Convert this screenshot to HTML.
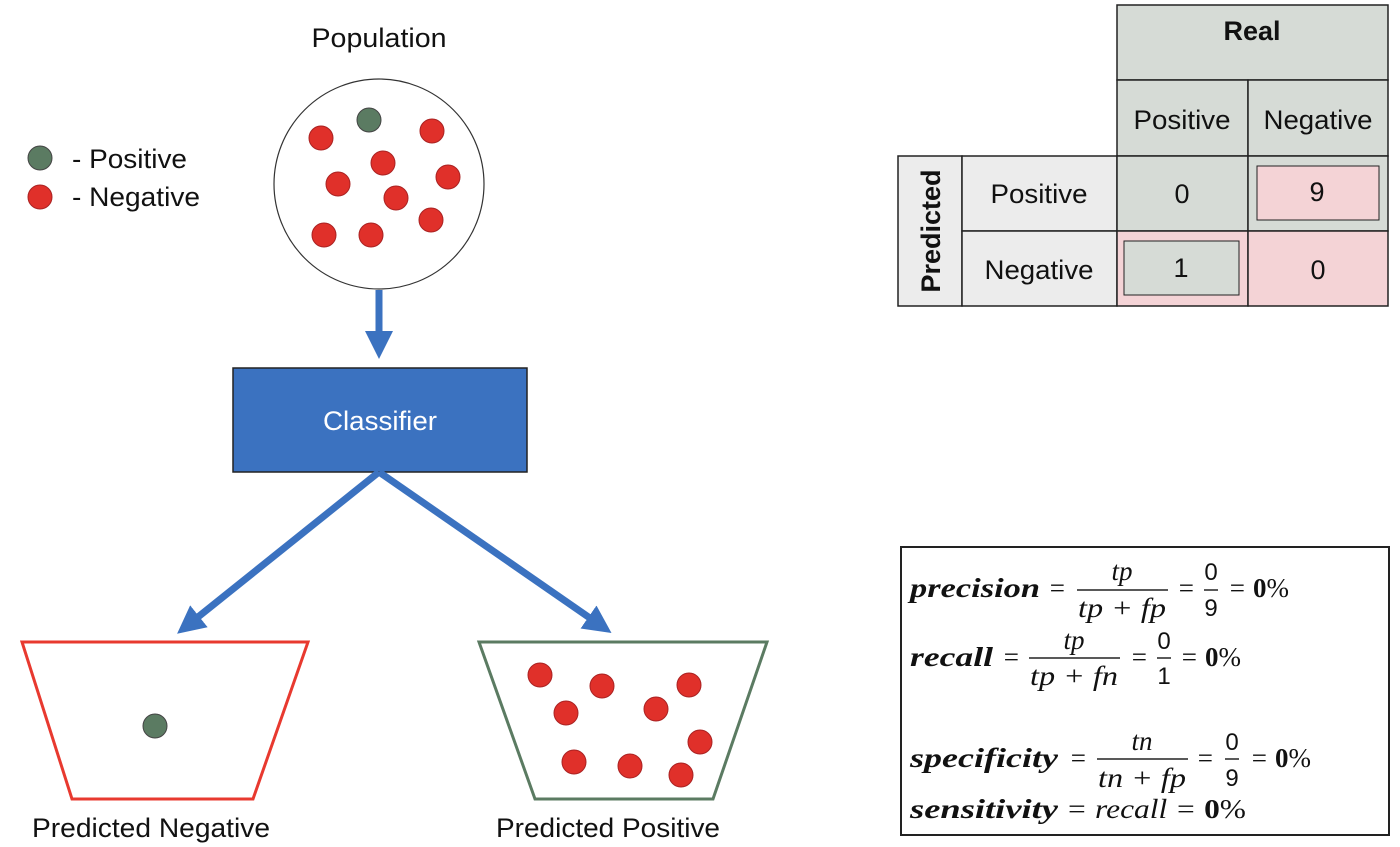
<!DOCTYPE html>
<html><head><meta charset="utf-8"><style>
html,body{margin:0;padding:0;background:#fff;}
svg{display:block;}
.t{font-family:"Liberation Sans",sans-serif;fill:#111;}
.m{font-family:"Liberation Serif",serif;font-style:italic;fill:#111;font-size:27px;}
.mb{font-weight:bold;}
.n{font-family:"Liberation Sans",sans-serif;font-style:normal;font-size:24px;}
</style></head><body>
<svg width="1400" height="847" viewBox="0 0 1400 847" xmlns="http://www.w3.org/2000/svg">
<defs>
<marker id="ah" markerWidth="4" markerHeight="4" refX="2" refY="2" orient="auto" markerUnits="strokeWidth">
<path d="M0,0 L4,2 L0,4 z" fill="#3b72c0"/></marker>
</defs>
<g>
<circle cx="40" cy="158" r="12" fill="#5b7b62" stroke="#444" stroke-width="1"/>
<text class="t" x="72" y="168" font-size="27" textLength="115" lengthAdjust="spacingAndGlyphs">- Positive</text>
<circle cx="40" cy="197" r="12" fill="#e0302a" stroke="#a22" stroke-width="1"/>
<text class="t" x="72" y="206" font-size="27" textLength="128" lengthAdjust="spacingAndGlyphs">- Negative</text>
</g>
<text class="t" x="379" y="47" font-size="27" text-anchor="middle" textLength="135" lengthAdjust="spacingAndGlyphs">Population</text>
<circle cx="379" cy="184" r="105" fill="#fff" stroke="#333" stroke-width="1.2"/>
<g id="popdots"></g>
<line x1="379" y1="290" x2="379" y2="345" stroke="#3b72c0" stroke-width="7" marker-end="url(#ah)"/>
<rect x="233" y="368" width="294" height="104" fill="#3b72c0" stroke="#222" stroke-width="1.5"/>
<text x="380" y="430" font-size="27" fill="#fff" text-anchor="middle" font-family="Liberation Sans,sans-serif" textLength="114" lengthAdjust="spacingAndGlyphs">Classifier</text>
<line x1="379" y1="472" x2="188" y2="625" stroke="#3b72c0" stroke-width="7" marker-end="url(#ah)"/>
<line x1="379" y1="472" x2="600" y2="625" stroke="#3b72c0" stroke-width="7" marker-end="url(#ah)"/>
<polygon points="22,642 308,642 253,799 72,799" fill="#fff" stroke="#e8392f" stroke-width="3"/>
<polygon points="479,642 767,642 713,799 535,799" fill="#fff" stroke="#5b7b62" stroke-width="3"/>
<g id="bindots"></g>
<text class="t" x="151" y="837" font-size="27" text-anchor="middle" textLength="238" lengthAdjust="spacingAndGlyphs">Predicted Negative</text>
<text class="t" x="608" y="837" font-size="27" text-anchor="middle" textLength="224" lengthAdjust="spacingAndGlyphs">Predicted Positive</text>

<g stroke="#222" stroke-width="1.5">
<rect x="1117" y="5" width="271" height="75" fill="#d6dbd6"/>
<rect x="1117" y="80" width="131" height="76" fill="#d6dbd6"/>
<rect x="1248" y="80" width="140" height="76" fill="#d6dbd6"/>
<rect x="898" y="156" width="64" height="150" fill="#ececec"/>
<rect x="962" y="156" width="155" height="75" fill="#ececec"/>
<rect x="962" y="231" width="155" height="75" fill="#ececec"/>
<rect x="1117" y="156" width="131" height="75" fill="#d6dbd6"/>
<rect x="1248" y="156" width="140" height="75" fill="#d6dbd6"/>
<rect x="1117" y="231" width="131" height="75" fill="#f4d3d6"/>
<rect x="1248" y="231" width="140" height="75" fill="#f4d3d6"/>
<rect x="1257" y="166" width="122" height="54" fill="#f4d3d6" stroke-width="1"/>
<rect x="1124" y="241" width="115" height="54" fill="#d6dbd6" stroke-width="1"/>
</g>
<g class="t" font-size="27" text-anchor="middle">
<text x="1252" y="40" font-weight="bold">Real</text>
<text x="1182" y="129" textLength="97" lengthAdjust="spacingAndGlyphs">Positive</text>
<text x="1318" y="129" textLength="109" lengthAdjust="spacingAndGlyphs">Negative</text>
<text x="1039" y="203" textLength="97" lengthAdjust="spacingAndGlyphs">Positive</text>
<text x="1039" y="279" textLength="109" lengthAdjust="spacingAndGlyphs">Negative</text>
<text x="1182" y="203">0</text>
<text x="1317" y="201">9</text>
<text x="1181" y="277">1</text>
<text x="1318" y="279">0</text>
<text x="0" y="0" font-weight="bold" transform="translate(940,231) rotate(-90)">Predicted</text>
</g>

<rect x="901" y="547" width="488" height="288" fill="#fff" stroke="#222" stroke-width="2"/>
<g>
<text class="m mb" x="910" y="597" textLength="130" lengthAdjust="spacingAndGlyphs">precision</text>
<text class="m" x="1048" y="597">=</text>
<text class="m" x="1122" y="580" text-anchor="middle">tp</text>
<line x1="1077" y1="590" x2="1168" y2="590" stroke="#222" stroke-width="1.5"/>
<text class="m" x="1122" y="617" text-anchor="middle" textLength="88" lengthAdjust="spacingAndGlyphs">tp + fp</text>
<text class="m" x="1177" y="597">=</text>
<text class="m n" x="1211" y="580" text-anchor="middle">0</text>
<line x1="1204" y1="590" x2="1218" y2="590" stroke="#222" stroke-width="1.5"/>
<text class="m n" x="1211" y="616" text-anchor="middle">9</text>
<text class="m" x="1228" y="597">= <tspan font-weight="bold" font-style="normal">0</tspan><tspan font-style="normal">%</tspan></text>

<text class="m mb" x="910" y="666" textLength="83" lengthAdjust="spacingAndGlyphs">recall</text>
<text class="m" x="1002" y="666">=</text>
<text class="m" x="1074" y="649" text-anchor="middle">tp</text>
<line x1="1029" y1="658" x2="1120" y2="658" stroke="#222" stroke-width="1.5"/>
<text class="m" x="1074" y="685" text-anchor="middle" textLength="88" lengthAdjust="spacingAndGlyphs">tp + fn</text>
<text class="m" x="1130" y="666">=</text>
<text class="m n" x="1164" y="649" text-anchor="middle">0</text>
<line x1="1157" y1="658" x2="1171" y2="658" stroke="#222" stroke-width="1.5"/>
<text class="m n" x="1164" y="684" text-anchor="middle">1</text>
<text class="m" x="1180" y="666">= <tspan font-weight="bold" font-style="normal">0</tspan><tspan font-style="normal">%</tspan></text>

<text class="m mb" x="910" y="767" textLength="148" lengthAdjust="spacingAndGlyphs">specificity</text>
<text class="m" x="1069" y="767">=</text>
<text class="m" x="1142" y="750" text-anchor="middle">tn</text>
<line x1="1097" y1="759" x2="1188" y2="759" stroke="#222" stroke-width="1.5"/>
<text class="m" x="1142" y="787" text-anchor="middle" textLength="88" lengthAdjust="spacingAndGlyphs">tn + fp</text>
<text class="m" x="1196" y="767">=</text>
<text class="m n" x="1232" y="750" text-anchor="middle">0</text>
<line x1="1225" y1="759" x2="1239" y2="759" stroke="#222" stroke-width="1.5"/>
<text class="m n" x="1232" y="786" text-anchor="middle">9</text>
<text class="m" x="1250" y="767">= <tspan font-weight="bold" font-style="normal">0</tspan><tspan font-style="normal">%</tspan></text>

<text class="m mb" x="910" y="818" textLength="148" lengthAdjust="spacingAndGlyphs">sensitivity</text>
<text class="m" x="1066" y="818" textLength="180" lengthAdjust="spacingAndGlyphs">= recall = <tspan font-weight="bold" font-style="normal">0</tspan><tspan font-style="normal">%</tspan></text>
</g>
</svg>
<script>
const popX=[369,321,432,383,338,448,396,431,324,371];
const popY=[120,138,131,163,184,177,198,220,235,235];
const popPos=[1,0,0,0,0,0,0,0,0,0];
const negBinX=[155];const negBinY=[726];
const posBinX=[540,602,689,566,656,700,574,630,681];
const posBinY=[675,686,685,713,709,742,762,766,775];
const NS="http://www.w3.org/2000/svg";
function dot(g,x,y,pos){const c=document.createElementNS(NS,'circle');
c.setAttribute('cx',x);c.setAttribute('cy',y);c.setAttribute('r',12);
c.setAttribute('fill',pos?'#5b7b62':'#e0302a');c.setAttribute('stroke',pos?'#444':'#a22');


g.appendChild(c);}
const pg=document.getElementById('popdots');
popX.forEach((x,i)=>dot(pg,x,popY[i],popPos[i]));
const bg=document.getElementById('bindots');
negBinX.forEach((x,i)=>dot(bg,x,negBinY[i],1));
posBinX.forEach((x,i)=>dot(bg,x,posBinY[i],0));
</script>
</body></html>
